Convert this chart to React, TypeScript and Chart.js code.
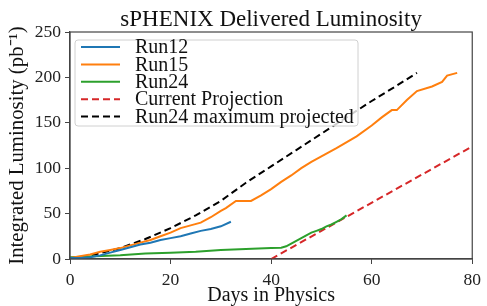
import React, { useEffect, useRef } from "react";
import { Chart, registerables } from "chart.js";
Chart.register(...registerables);

const titleText = "sPHENIX Delivered Luminosity";
const xTitle = "Days in Physics";
const yTitle = "Integrated Luminosity (pb\u207B\u00B9)";

const run12Days = [0, 2, 4, 6, 8, 10, 12, 14, 16, 18, 20, 22, 24, 26, 28, 30, 32];
const run12Lumi = [1, 1, 2, 4, 7, 10, 13, 16, 18, 21, 23, 25, 28, 31, 33, 36, 41];

const run15Days = [0, 2, 4, 6, 8, 10, 12, 14, 16, 18, 20, 22, 24, 26, 28, 30, 31, 33, 36, 38, 40, 42, 44, 46, 48, 50, 53, 57, 60, 62, 64, 65, 67, 69, 72, 74, 75, 77];
const run15Lumi = [1, 3, 5, 8, 10, 12, 15, 18, 21, 25, 29, 34, 37, 40, 46, 53, 56, 64, 64, 70, 77, 85, 92, 100, 107, 113, 122, 135, 147, 156, 164, 164, 175, 185, 190, 195, 202, 205];

const run24Days = [0, 5, 10, 15, 20, 25, 30, 35, 40, 42, 43, 44, 45, 46, 47, 48, 49, 50, 51, 52, 53, 54, 55];
const run24Lumi = [2, 3, 4, 6, 7, 8, 10, 11, 12, 12.5, 14, 17, 20, 23, 26, 29, 31, 33, 36, 38, 41, 44, 48];

const projDays = [40, 80];
const projLumi = [0, 124];

const maxDays = [0, 5, 10, 15, 20, 25, 30, 35, 40, 45, 50, 55, 60, 65, 69];
const maxLumi = [0, 5, 12, 22, 34, 48, 64, 84, 102, 120, 138, 156, 174, 191, 205];

const seriesNames = ["Run12", "Run15", "Run24", "Current Projection", "Run24 maximum projected"];
const seriesColors = ["#1f77b4", "#ff7f0e", "#2ca02c", "#d62728", "#000000"];

const xTicks = [0, 20, 40, 60, 80];
const yTicks = [0, 50, 100, 150, 200, 250];

const SERIF = "'Liberation Serif', 'Times New Roman', serif";

const pts = (xs: number[], ys: number[]) => xs.map((x, i) => ({ x, y: ys[i] }));

const framePlugin = {
  id: "frame",
  afterDatasetsDraw(chart: any) {
    const { ctx, chartArea: a } = chart;
    ctx.save();
    ctx.strokeStyle = "#444";
    ctx.lineWidth = 1.2;
    ctx.strokeRect(a.left, a.top, a.right - a.left, a.bottom - a.top);
    ctx.restore();
  },
};

const titlePlugin = {
  id: "axTitle",
  afterDraw(chart: any) {
    const { ctx, chartArea: a } = chart;
    ctx.save();
    ctx.font = `23px ${SERIF}`;
    ctx.fillStyle = "#111";
    ctx.textAlign = "center";
    ctx.textBaseline = "alphabetic";
    ctx.fillText(titleText, (a.left + a.right) / 2, a.top - 6);
    ctx.restore();
  },
};

const legendPlugin = {
  id: "innerLegend",
  afterDraw(chart: any) {
    const { ctx, chartArea: a } = chart;
    const ds = chart.data.datasets;
    const x0 = a.left + 5;
    const y0 = a.top + 8;
    const w = 283;
    const rowH = 17.4;
    const h = 86;
    ctx.save();
    ctx.fillStyle = "rgba(255,255,255,0.8)";
    ctx.strokeStyle = "#d0d0d0";
    ctx.lineWidth = 1;
    ctx.beginPath();
    (ctx as any).roundRect(x0, y0, w, h, 3);
    ctx.fill();
    ctx.stroke();
    ctx.font = `20px ${SERIF}`;
    ctx.textBaseline = "middle";
    ctx.fillStyle = "#111";
    ds.forEach((d: any, i: number) => {
      const cy = y0 + 7 + i * rowH;
      ctx.strokeStyle = d.borderColor;
      ctx.lineWidth = 2;
      ctx.setLineDash(d.borderDash || []);
      ctx.beginPath();
      ctx.moveTo(x0 + 6, cy);
      ctx.lineTo(x0 + 45, cy);
      ctx.stroke();
      ctx.setLineDash([]);
      ctx.fillText(d.label, x0 + 60, cy + 1);
    });
    ctx.restore();
  },
};

export default function App() {
  const ref = useRef<HTMLCanvasElement>(null);
  useEffect(() => {
    document.body.style.margin = "0";
    const canvas = ref.current!;
    const dash = [7, 4];
    const chart = new Chart(canvas, {
      type: "line",
      data: {
        datasets: [
          { label: seriesNames[0], data: pts(run12Days, run12Lumi), borderColor: seriesColors[0] },
          { label: seriesNames[1], data: pts(run15Days, run15Lumi), borderColor: seriesColors[1] },
          { label: seriesNames[2], data: pts(run24Days, run24Lumi), borderColor: seriesColors[2] },
          { label: seriesNames[3], data: pts(projDays, projLumi), borderColor: seriesColors[3], borderDash: dash },
          { label: seriesNames[4], data: pts(maxDays, maxLumi), borderColor: seriesColors[4], borderDash: dash },
        ].map((d: any) => ({ ...d, borderWidth: 2, pointRadius: 0, tension: 0, fill: false })) as any,
      },
      options: {
        responsive: false,
        animation: false,
        layout: { padding: { top: 32, right: 9, left: 0, bottom: 0 } },
        plugins: {
          legend: { display: false },
          tooltip: { enabled: false },
          title: { display: false },
        },
        scales: {
          x: {
            type: "linear",
            min: 0,
            max: 80,
            afterFit: (s: any) => { s.height = 47; },
            afterBuildTicks: (s: any) => { s.ticks = xTicks.map((v) => ({ value: v })); },
            ticks: { color: "#222", font: { family: SERIF, size: 17.5 }, padding: 6, maxRotation: 0 },
            grid: { drawOnChartArea: false, drawTicks: true, tickLength: 5, color: "#444" },
            border: { display: true, color: "#444", width: 1.2 },
            title: { display: true, text: xTitle, color: "#111", font: { family: SERIF, size: 20, lineHeight: 1 }, padding: { top: 0, bottom: 0 } },
          },
          y: {
            type: "linear",
            min: 0,
            max: 250,
            afterFit: (s: any) => { s.width = 70; },
            afterBuildTicks: (s: any) => { s.ticks = yTicks.map((v) => ({ value: v })); },
            ticks: { color: "#222", font: { family: SERIF, size: 17.5 }, padding: 4 },
            grid: { drawOnChartArea: false, drawTicks: true, tickLength: 5, color: "#444" },
            border: { display: true, color: "#444", width: 1.2 },
            title: { display: true, text: yTitle, color: "#111", font: { family: SERIF, size: 20.8, lineHeight: 1.2 }, padding: { top: 5, bottom: 0 } },
          },
        },
      } as any,
      plugins: [framePlugin, legendPlugin, titlePlugin],
    });
    return () => chart.destroy();
  }, []);
  return <canvas ref={ref} width={487} height={306} />;
}
